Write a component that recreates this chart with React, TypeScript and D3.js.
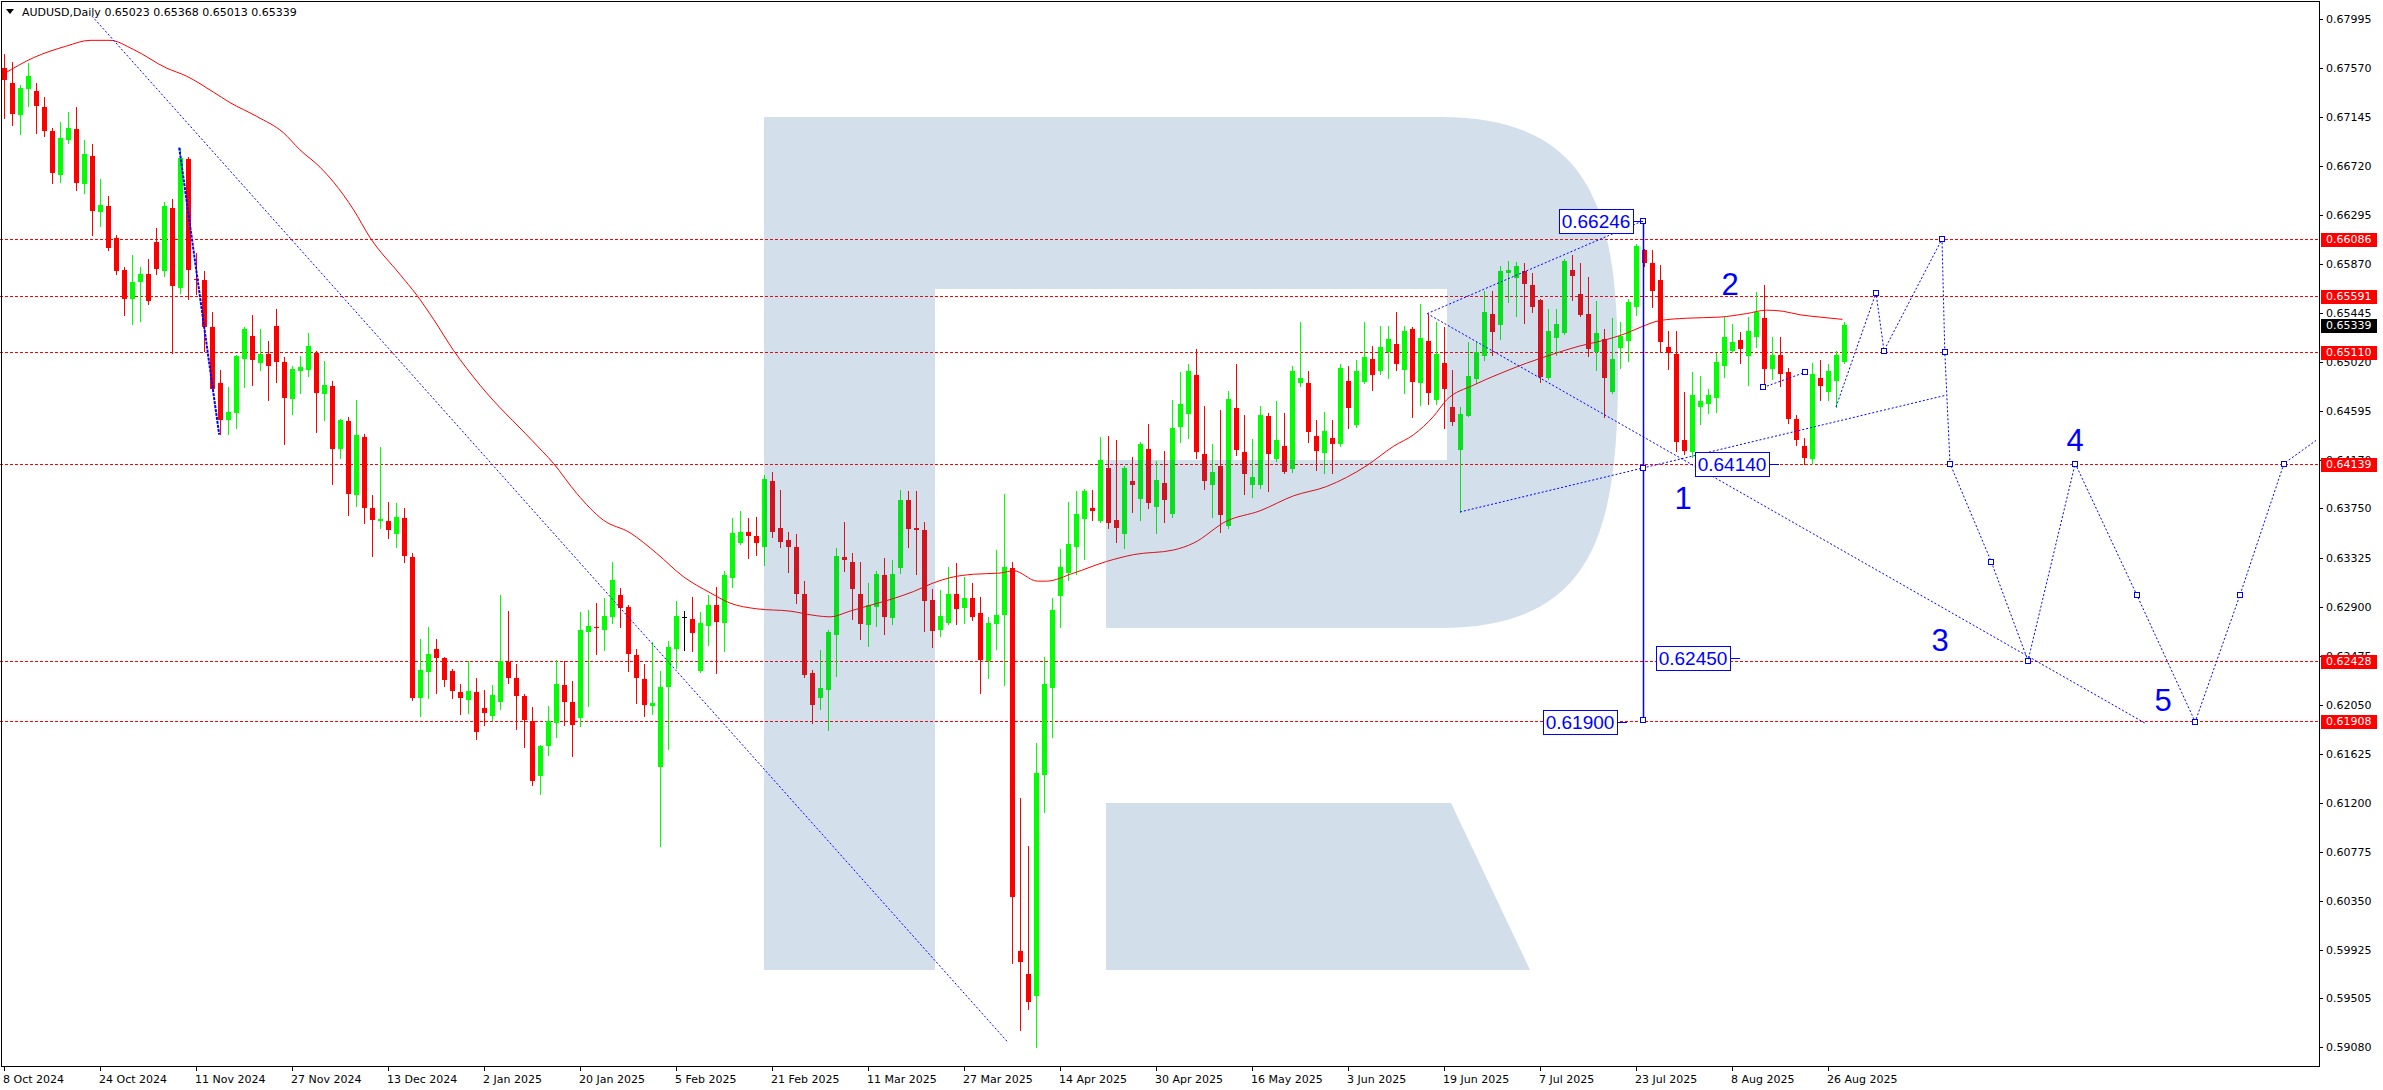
import React, { useEffect } from 'react';
import * as d3 from 'd3';

// ---- OHLC data (daily bars, 8 Oct 2024 .. 28 Aug 2025) ----
const opens = [
0.6757,0.6744,0.6716,0.6739,0.6737,0.6723,0.6702,0.6664,0.6695,0.6704,
0.6656,0.6681,0.6632,0.6637,0.6610,0.6582,0.6557,0.6571,0.6578,0.6606,
0.6581,0.6636,0.6566,0.6678,0.6574,0.6573,0.6532,0.6484,0.6452,0.6458,
0.6505,0.6525,0.6501,0.6509,0.6533,0.6502,0.6470,0.6494,0.6495,0.6510,
0.6474,0.6481,0.6427,0.6451,0.6387,0.6437,0.6375,0.6364,0.6364,0.6353,
0.6367,0.6333,0.6211,0.6233,0.6253,0.6245,0.6234,0.6216,0.6209,0.6216,
0.6202,0.6195,0.6207,0.6242,0.6228,0.6212,0.6191,0.6143,0.6169,0.6189,
0.6222,0.6207,0.6193,0.6268,0.6272,0.6270,0.6281,0.6300,0.6290,0.6248,
0.6227,0.6204,0.6151,0.6220,0.6253,0.6281,0.6279,0.6234,0.6273,0.6291,
0.6276,0.6315,0.6345,0.6355,0.6351,0.6342,0.6399,0.6358,0.6348,0.6342,
0.6301,0.6232,0.6211,0.6218,0.6265,0.6333,0.6329,0.6301,0.6274,0.6290,
0.6317,0.6280,0.6323,0.6382,0.6358,0.6356,0.6296,0.6270,0.6276,0.6301,
0.6289,0.6297,0.6284,0.6243,0.6275,0.6283,0.6323,0.5991,0.5971,0.5952,
0.6144,0.6219,0.6299,0.6319,0.6342,0.6366,0.6375,0.6364,0.6410,0.6365,
0.6353,0.6399,0.6383,0.6427,0.6376,0.6397,0.6370,0.6446,0.6457,0.6491,
0.6422,0.6395,0.6412,0.6360,0.6462,0.6424,0.6395,0.6395,0.6455,0.6418,
0.6429,0.6409,0.6484,0.6484,0.6438,0.6423,0.6436,0.6431,0.6486,0.6447,
0.6485,0.6505,0.6494,0.6511,0.6518,0.6495,0.6531,0.6484,0.6520,0.6469,
0.6501,0.6463,0.6426,0.6455,0.6487,0.6507,0.6544,0.6534,0.6579,0.6575,
0.6581,0.6569,0.6556,0.6488,0.6523,0.6527,0.6582,0.6561,0.6544,0.6511,
0.6522,0.6476,0.6514,0.6520,0.6550,0.6599,0.6588,0.6573,0.6515,0.6509,
0.6434,0.6424,0.6463,0.6466,0.6471,0.6499,0.6512,0.6521,0.6507,0.6524,
0.6540,0.6496,0.6508,0.6493,0.6453,0.6429,0.6418,0.6488,0.6476,0.6486,
0.65023];
const highs = [
0.6769,0.6762,0.6742,0.6761,0.6744,0.6732,0.6705,0.6710,0.6719,0.6723,
0.6695,0.6691,0.6661,0.6646,0.6612,0.6584,0.6595,0.6584,0.6591,0.6618,
0.6641,0.6643,0.6688,0.6680,0.6597,0.6581,0.6545,0.6495,0.6480,0.6508,
0.6532,0.6543,0.6531,0.6520,0.6548,0.6506,0.6499,0.6507,0.6527,0.6512,
0.6503,0.6486,0.6453,0.6454,0.6469,0.6440,0.6387,0.6428,0.6381,0.6380,
0.6375,0.6336,0.6262,0.6272,0.6262,0.6246,0.6236,0.6223,0.6243,0.6228,
0.6218,0.6222,0.6300,0.6286,0.6240,0.6214,0.6203,0.6170,0.6204,0.6244,
0.6243,0.6225,0.6285,0.6287,0.6293,0.6297,0.6329,0.6306,0.6291,0.6253,
0.6240,0.6259,0.6234,0.6260,0.6295,0.6286,0.6298,0.6285,0.6300,0.6307,
0.6321,0.6367,0.6373,0.6367,0.6368,0.6404,0.6407,0.6391,0.6355,0.6353,
0.6312,0.6235,0.6252,0.6270,0.6341,0.6363,0.6336,0.6329,0.6310,0.6321,
0.6332,0.6330,0.6391,0.6390,0.6390,0.6363,0.6305,0.6304,0.6324,0.6328,
0.6316,0.6310,0.6298,0.6281,0.6339,0.6388,0.6329,0.6124,0.6082,0.6172,
0.6246,0.6297,0.6340,0.6381,0.6390,0.6392,0.6391,0.6437,0.6438,0.6434,
0.6412,0.6420,0.6433,0.6448,0.6416,0.6425,0.6469,0.6493,0.6500,0.6513,
0.6464,0.6431,0.6460,0.6477,0.6500,0.6456,0.6435,0.6464,0.6458,0.6468,
0.6458,0.6499,0.6537,0.6494,0.6452,0.6459,0.6452,0.6500,0.6499,0.6504,
0.6537,0.6516,0.6533,0.6533,0.6545,0.6533,0.6532,0.6552,0.6543,0.6537,
0.6532,0.6495,0.6463,0.6519,0.6519,0.6564,0.6564,0.6585,0.6590,0.6589,
0.6588,0.6579,0.6557,0.6548,0.6548,0.6591,0.6595,0.6588,0.6576,0.6555,
0.6531,0.6540,0.6537,0.6557,0.6604,0.6600,0.6599,0.6586,0.6529,0.6529,
0.6476,0.6493,0.6490,0.6479,0.6510,0.6541,0.6535,0.6528,0.6541,0.6563,
0.6569,0.6524,0.6524,0.6497,0.6456,0.6436,0.6501,0.6504,0.6500,0.6512,
0.65368];
const lows = [
0.6714,0.6708,0.6700,0.6724,0.6701,0.6698,0.6657,0.6658,0.6692,0.6651,
0.6649,0.6612,0.6620,0.6599,0.6578,0.6543,0.6535,0.6538,0.6552,0.6578,
0.6577,0.6510,0.6562,0.6557,0.6561,0.6512,0.6478,0.6440,0.6440,0.6445,
0.6480,0.6482,0.6495,0.6469,0.6485,0.6431,0.6457,0.6475,0.6490,0.6441,
0.6452,0.6396,0.6419,0.6369,0.6377,0.6362,0.6334,0.6358,0.6349,0.6342,
0.6329,0.6209,0.6195,0.6211,0.6215,0.6221,0.6211,0.6197,0.6198,0.6175,
0.6187,0.6192,0.6201,0.6224,0.6184,0.6168,0.6135,0.6127,0.6161,0.6177,
0.6187,0.6160,0.6186,0.6204,0.6249,0.6252,0.6276,0.6272,0.6234,0.6206,
0.6195,0.6197,0.6082,0.6166,0.6237,0.6252,0.6251,0.6233,0.6257,0.6232,
0.6251,0.6307,0.6344,0.6332,0.6335,0.6326,0.6350,0.6342,0.6320,0.6293,
0.6229,0.6189,0.6201,0.6183,0.6230,0.6321,0.6279,0.6262,0.6256,0.6273,
0.6266,0.6275,0.6319,0.6342,0.6318,0.6269,0.6255,0.6264,0.6275,0.6275,
0.6276,0.6278,0.6215,0.6228,0.6253,0.6222,0.5981,0.5923,0.5941,0.5908,
0.6112,0.6177,0.6272,0.6313,0.6318,0.6331,0.6365,0.6363,0.6358,0.6346,
0.6341,0.6372,0.6365,0.6375,0.6354,0.6363,0.6368,0.6433,0.6436,0.6419,
0.6392,0.6368,0.6355,0.6358,0.6421,0.6388,0.6385,0.6393,0.6390,0.6416,
0.6406,0.6407,0.6481,0.6433,0.6408,0.6406,0.6406,0.6429,0.6445,0.6446,
0.6484,0.6478,0.6492,0.6488,0.6495,0.6475,0.6454,0.6465,0.6466,0.6466,
0.6445,0.6447,0.6372,0.6455,0.6484,0.6504,0.6508,0.6522,0.6554,0.6542,
0.6536,0.6545,0.6485,0.6487,0.6508,0.6526,0.6556,0.6542,0.6507,0.6495,
0.6454,0.6475,0.6497,0.6503,0.6543,0.6585,0.6550,0.6512,0.6496,0.6425,
0.6422,0.6420,0.6448,0.6458,0.6459,0.6489,0.6511,0.6501,0.6482,0.6515,
0.6483,0.6487,0.6481,0.6449,0.6430,0.6414,0.6414,0.6469,0.6469,0.6463,
0.65013];
const closes = [
0.6747,0.6717,0.6740,0.6750,0.6724,0.6702,0.6666,0.6696,0.6705,0.6657,
0.6682,0.6633,0.6638,0.6601,0.6581,0.6557,0.6571,0.6578,0.6555,0.6583,
0.6637,0.6568,0.6679,0.6582,0.6573,0.6532,0.6479,0.6452,0.6459,0.6507,
0.6531,0.6504,0.6509,0.6499,0.6502,0.6471,0.6496,0.6498,0.6516,0.6475,
0.6482,0.6427,0.6452,0.6388,0.6439,0.6375,0.6365,0.6366,0.6356,0.6368,
0.6334,0.6211,0.6235,0.6249,0.6245,0.6226,0.6217,0.6211,0.6217,0.6181,
0.6198,0.6213,0.6243,0.6228,0.6212,0.6192,0.6139,0.6169,0.6191,0.6223,
0.6207,0.6187,0.6270,0.6273,0.6271,0.6282,0.6313,0.6289,0.6249,0.6228,
0.6205,0.6206,0.6220,0.6255,0.6282,0.6281,0.6267,0.6276,0.6291,0.6277,
0.6317,0.6354,0.6355,0.6351,0.6345,0.6401,0.6355,0.6346,0.6342,0.6301,
0.6231,0.6205,0.6219,0.6268,0.6334,0.6330,0.6305,0.6275,0.6291,0.6318,
0.6281,0.6318,0.6382,0.6357,0.6356,0.6295,0.6269,0.6282,0.6301,0.6288,
0.6297,0.6281,0.6244,0.6276,0.6283,0.6324,0.6038,0.5982,0.5947,0.6146,
0.6223,0.6287,0.6324,0.6344,0.6370,0.6390,0.6373,0.6417,0.6362,0.6358,
0.6410,0.6395,0.6431,0.6380,0.6400,0.6382,0.6445,0.6466,0.6494,0.6424,
0.6399,0.6407,0.6369,0.6470,0.6426,0.6405,0.6402,0.6456,0.6422,0.6434,
0.6407,0.6494,0.6488,0.6441,0.6425,0.6442,0.6431,0.6497,0.6462,0.6494,
0.6506,0.6491,0.6515,0.6522,0.6500,0.6529,0.6485,0.6523,0.6475,0.6509,
0.6479,0.6450,0.6457,0.6490,0.6511,0.6545,0.6528,0.6581,0.6582,0.6585,
0.6570,0.6550,0.6489,0.6529,0.6535,0.6590,0.6577,0.6543,0.6513,0.6527,
0.6488,0.6505,0.6525,0.6554,0.6603,0.6588,0.6564,0.6519,0.6510,0.6433,
0.6425,0.6473,0.6468,0.6473,0.6502,0.6524,0.6519,0.6513,0.6529,0.6545,
0.6496,0.6508,0.6492,0.6453,0.6434,0.6419,0.6492,0.6481,0.6494,0.6508,
0.65339];

// ---- Moving average ----
const maIdx = [0,3.7,7.8,10.75,13.25,16.2,20.3,22.8,26.2,28.25,31.6,34.9,37,39.5,41.2,43.7,45.75,49.5,51.6,53.7,56.2,59.5,66,68.7,71.6,74.9,78.25,81.6,84.9,88.25,90.75,94.1,98.25,101.6,103.25,105.75,108.25,110.75,113.7,116,118.25,121.2,124.5,126.2,129.2,130.3,133.7,137.8,141.2,146.2,148.7,152.8,157,161.2,165.3,170.3,173.7,176.2,178.7,180.3,183.7,187,190.3,193.7,197,199.5,202.8,204.5,207,210.3,214.5,217.8,220.3,222.4,224.5,227,229.8];
const maVal = [0.6752,0.6766,0.6776,0.6781,0.6781,0.6773,0.6757,0.6750,0.6736,0.6727,0.6715,0.6701,0.6686,0.6671,0.6658,0.6634,0.6610,0.6578,0.6560,0.6539,0.6512,0.6482,0.6434,0.6414,0.6388,0.6365,0.6354,0.6336,0.6316,0.6302,0.6293,0.6288,0.6286,0.6282,0.6281,0.6286,0.6291,0.6296,0.6303,0.6310,0.6315,0.6318,0.6319,0.6321,0.6312,0.6312,0.6319,0.6329,0.6335,0.6339,0.6345,0.6364,0.6373,0.6386,0.6394,0.6412,0.6429,0.6439,0.6455,0.6469,0.6482,0.6492,0.6501,0.6509,0.6516,0.6520,0.6527,0.6532,0.6538,0.6540,0.6541,0.6544,0.6547,0.6546,0.6543,0.6541,0.6539];

// ---- Axis ticks ----
const yTicks = [0.67995,0.67570,0.67145,0.66720,0.66295,0.65870,0.65445,0.65020,0.64595,0.64170,0.63750,0.63325,0.62900,0.62475,0.62050,0.61625,0.61200,0.60775,0.60350,0.59925,0.59505,0.59080];
const xTickIdx = [0,12,24,36,48,60,72,84,96,108,120,132,144,156,168,180,192,204,216,228];
const xTickLabels = ["8 Oct 2024","24 Oct 2024","11 Nov 2024","27 Nov 2024","13 Dec 2024","2 Jan 2025","20 Jan 2025","5 Feb 2025","21 Feb 2025","11 Mar 2025","27 Mar 2025","14 Apr 2025","30 Apr 2025","16 May 2025","3 Jun 2025","19 Jun 2025","7 Jul 2025","23 Jul 2025","8 Aug 2025","26 Aug 2025"];

// ---- Horizontal levels ----
const levels = [0.66086,0.65591,0.65110,0.64139,0.62428,0.61908];
const lastPrice = 0.65339;

// ---- Blue analysis lines ----
const trendIdx = [11,125.5];          const trendPrice = [0.6802,0.5912];
const impulseIdx = [21.9,26.9];       const impulsePrice = [0.6688,0.6439];
const wedgeUpIdx = [177.9,204.9];     const wedgeUpPrice = [0.6544,0.66246];
const channelIdx = [177.9,267.6];     const channelPrice = [0.6544,0.6189];
const wedgeLowIdx = [182,242.6];      const wedgeLowPrice = [0.6372,0.6473];
const wave2Idx = [219.9,225.1];       const wave2Price = [0.6480,0.6493];
const projIdx = [229,234,235,242.25,242.6,243.25,248.4,253,258.9,266.6,273.9,279.5,285,289];
const projPrice = [0.6463,0.6562,0.6512,0.66086,0.6511,0.6414,0.6329,0.6243,0.6414,0.6300,0.6190,0.6300,0.6414,0.6434];
const measureIdx = 204.9;
const measurePrice = [0.66246,0.6410,0.6192];

const boxTexts = ["0.66246","0.64140","0.62450","0.61900"];
const boxRightIdx = [203.6,220.6,215.75,201.6];
const boxPrice = [0.66246,0.64140,0.62450,0.61900];

const waveLabels = ["1","2","3","4","5"];
const waveLabelIdx = [209.9,215.75,242,258.9,269.9];
const waveLabelPrice = [0.6384,0.6570,0.6261,0.6434,0.6209];

const W = 2383, H = 1090;
const RIGHT = 2319, BOTTOM = 1066;
const BLUE = '#0000ff';
const AXIS_FONT = '"DejaVu Sans", Verdana, sans-serif';

export default function App() {
  useEffect(() => { document.body.style.margin = '0'; }, []);

  const x = d3.scaleLinear().domain([0, 289]).range([4, 4 + 8 * 289]);
  const y = d3.scaleLinear().domain([0.5908, 0.67995]).range([1047, 19]);

  const candles = opens.map((o, i) => {
    const c = closes[i], h = highs[i], l = lows[i];
    const cx = Math.round(x(i));
    const top = Math.round(y(Math.max(o, c)));
    const bot = Math.round(y(Math.min(o, c)));
    const color = o === c ? '#000000' : c > o ? '#00ff00' : '#ff0000';
    return (
      <g key={i}>
        <line x1={cx + 0.5} x2={cx + 0.5} y1={Math.round(y(h))} y2={Math.round(y(l)) + 1} stroke={color} strokeWidth={1} />
        <rect x={cx - 2} y={top} width={5} height={Math.max(1, bot - top)} fill={color} />
      </g>
    );
  });

  const maLine = d3.line<number>()
    .x((d) => x(maIdx[d]))
    .y((d) => y(maVal[d]))
    .curve(d3.curveMonotoneX)(maIdx.map((_, i) => i)) || '';

  const poly = (idx: number[], pr: number[]) =>
    d3.line<number>().x((d) => x(idx[d])).y((d) => y(pr[d]))(idx.map((_, i) => i)) || '';

  const sq = (cx: number, cy: number, k: string) => (
    <rect key={k} x={Math.round(cx) - 2.5} y={Math.round(cy) - 2.5} width={5} height={5} fill="#ffffff" stroke={BLUE} strokeWidth={1} />
  );

  // R watermark geometry (relative to the plot)
  const logoPath = 'M764,117 H1440 C1595,117 1618,215 1618,372 C1618,530 1595,628 1440,628 H1106 V460 H1447 V289 H935 V970 H764 Z';
  const legPath = 'M1106,803 H1451 L1530,970 H1106 Z';

  return (
    <svg width={W} height={H} style={{ position: 'absolute', left: 0, top: 0, display: 'block', background: '#fff' }}>
      <rect x={0} y={0} width={W} height={H} fill="#ffffff" />

      {/* level lines */}
      {levels.map((lv, i) => (
        <line key={'lv' + i} x1={0} x2={RIGHT} y1={Math.round(y(lv)) + 0.5} y2={Math.round(y(lv)) + 0.5}
          stroke="#ff0000" strokeWidth={1} strokeDasharray="3,2" shapeRendering="crispEdges" />
      ))}

      {/* candles */}
      <g shapeRendering="crispEdges">{candles}</g>

      {/* moving average */}
      <path d={maLine} fill="none" stroke="#ff0000" strokeWidth={1} />

      {/* watermark */}
      <g fill="#235f96" opacity={0.2}>
        <path d={logoPath} />
        <path d={legPath} />
      </g>

      {/* blue analysis */}
      <g fill="none" stroke={BLUE} strokeWidth={1} strokeDasharray="2,2">
        <path d={poly(trendIdx, trendPrice)} />
        <path d={poly(wedgeUpIdx, wedgeUpPrice)} />
        <path d={poly(channelIdx, channelPrice)} />
        <path d={poly(wedgeLowIdx, wedgeLowPrice)} />
        <path d={poly(wave2Idx, wave2Price)} />
        <path d={poly(projIdx, projPrice)} />
      </g>
      <path d={poly(impulseIdx, impulsePrice)} fill="none" stroke={BLUE} strokeWidth={2} strokeDasharray="3,1" />
      <line x1={Math.round(x(measureIdx)) + 0.5} x2={Math.round(x(measureIdx)) + 0.5}
        y1={y(measurePrice[0])} y2={y(measurePrice[2])} stroke={BLUE} strokeWidth={1.5} />
      {measurePrice.map((p, i) => sq(x(measureIdx), y(p), 'm' + i))}
      {wave2Idx.map((d, i) => sq(x(d), y(wave2Price[i]), 'w2' + i))}
      {projIdx.slice(1, -1).map((d, i) => sq(x(d), y(projPrice[i + 1]), 'p' + i))}

      {/* price boxes */}
      {boxTexts.map((t, i) => {
        const r = Math.round(x(boxRightIdx[i]));
        const cy = Math.round(y(boxPrice[i]));
        return (
          <g key={'bx' + i}>
            <line x1={r} x2={r + 10} y1={cy + 0.5} y2={cy + 0.5} stroke={BLUE} strokeWidth={1} />
            <rect x={r - 74 + 0.5} y={cy - 12 + 0.5} width={74} height={24} fill="#ffffff" stroke={BLUE} strokeWidth={1} />
            <text x={r - 37} y={cy + 7} textAnchor="middle" fontFamily='"Liberation Sans", Arial, sans-serif'
              fontSize={19} fill={BLUE}>{t}</text>
          </g>
        );
      })}

      {/* wave labels */}
      {waveLabels.map((t, i) => (
        <text key={'wl' + i} x={x(waveLabelIdx[i])} y={y(waveLabelPrice[i]) + 11} textAnchor="middle"
          fontFamily='"Liberation Sans", Arial, sans-serif' fontSize={31} fill={BLUE}>{t}</text>
      ))}

      {/* frame */}
      <rect x={1.5} y={1.5} width={RIGHT - 1} height={BOTTOM - 1} fill="none" stroke="#000" strokeWidth={1} shapeRendering="crispEdges" />

      {/* y axis */}
      <g fontFamily={AXIS_FONT} fontSize={11} fill="#000">
        {yTicks.map((t, i) => {
          const yy = Math.round(y(t));
          return (
            <g key={'yt' + i}>
              <line x1={RIGHT} x2={RIGHT + 4} y1={yy + 0.5} y2={yy + 0.5} stroke="#000" shapeRendering="crispEdges" />
              <text x={RIGHT + 7} y={yy + 4}>{t.toFixed(5)}</text>
            </g>
          );
        })}
        {levels.map((lv, i) => {
          const yy = Math.round(y(lv));
          return (
            <g key={'lb' + i}>
              <rect x={RIGHT + 2} y={yy - 6} width={56} height={14} fill="#ff0000" />
              <text x={RIGHT + 7} y={yy + 4} fill="#ffffff">{lv.toFixed(5)}</text>
            </g>
          );
        })}
        <rect x={RIGHT + 2} y={Math.round(y(lastPrice)) - 6} width={56} height={14} fill="#000000" />
        <text x={RIGHT + 7} y={Math.round(y(lastPrice)) + 4} fill="#ffffff">{lastPrice.toFixed(5)}</text>
      </g>

      {/* x axis */}
      <g fontFamily={AXIS_FONT} fontSize={11} fill="#000">
        {xTickIdx.map((d, i) => {
          const xx = Math.round(x(d));
          return (
            <g key={'xt' + i}>
              <line x1={xx + 0.5} x2={xx + 0.5} y1={BOTTOM} y2={BOTTOM + 5} stroke="#000" shapeRendering="crispEdges" />
              <text x={xx - 1} y={BOTTOM + 17}>{xTickLabels[i]}</text>
            </g>
          );
        })}
      </g>

      {/* header */}
      <path d="M6,9 L14,9 L10,14 Z" fill="#000" />
      <text x={22} y={16} fontFamily={AXIS_FONT} fontSize={11} fill="#000">
        AUDUSD,Daily  0.65023 0.65368 0.65013 0.65339
      </text>
    </svg>
  );
}
